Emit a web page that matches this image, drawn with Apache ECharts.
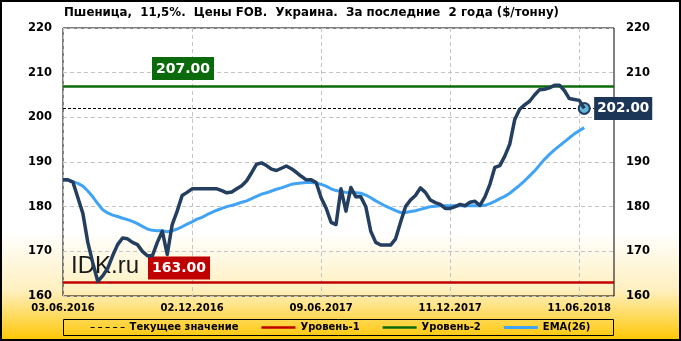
<!DOCTYPE html>
<html><head><meta charset="utf-8">
<script src="https://cdn.jsdelivr.net/npm/echarts@6/dist/echarts.min.js"></script>
<style>html,body{margin:0;padding:0;background:#fff}#c{width:681px;height:341px}</style>
</head><body><div id="c"></div>
<script>
// ---- data ----
const titleText = 'Пшеница,  11,5%.  Цены FOB.  Украина.  За последние  2 года ($/тонну)';
const xLabels = ['03.06.2016', '02.12.2016', '09.06.2017', '11.12.2017', '11.06.2018'];
const labelStep = 26;      // points between labelled dates
const categoryCount = 112; // points that the axis holds
const yMin = 160, yMax = 220, yStep = 10;
const price = [
  186, 186, 185.5, 182, 178.5, 172, 167.4, 163.3, 164.5, 166.2,
  169, 171.5, 173, 172.8, 172, 171.5, 170, 169, 169, 172,
  174.5, 169.3, 176, 179, 182.5, 183.2, 184, 184, 184, 184,
  184, 184, 183.6, 183.1, 183.3, 184, 184.7, 185.8, 187.6, 189.5,
  189.8, 189.2, 188.4, 188.1, 188.6, 189.1, 188.5, 187.7, 186.8, 186,
  186, 185.4, 182, 179.7, 176.5, 176, 184, 179, 184.3, 182.2,
  182.2, 180, 174.5, 172, 171.4, 171.4, 171.4, 172.8, 176.5, 180,
  181.5, 182.5, 184.2, 183.2, 181.5, 180.9, 180.5, 179.6, 179.6, 180,
  180.5, 180.2, 181, 181.2, 180.3, 182.2, 185, 188.8, 189.2, 191.3,
  194, 199.5, 201.8, 202.8, 203.6, 205, 206.2, 206.3, 206.6, 207.2,
  207.2, 206, 204.2, 204, 203.8, 202
];
const ema = [
  186, 185.9, 185.6, 185.2, 184.6, 183.5, 182.2, 180.7, 179.3, 178.6,
  178.1, 177.8, 177.4, 177.1, 176.7, 176.2, 175.6, 175, 174.7, 174.6,
  174.6, 174.4, 174.6, 175, 175.5, 176.1, 176.6, 177.2, 177.6, 178.2,
  178.7, 179.2, 179.6, 180, 180.3, 180.6, 181, 181.3, 181.8, 182.3,
  182.8, 183.1, 183.5, 183.9, 184.2, 184.6, 185, 185.2, 185.3, 185.4,
  185.4, 185.3, 185, 184.6, 184, 183.6, 183.4, 183.2, 183.1, 183.1,
  183, 182.6, 182, 181.3, 180.7, 180.1, 179.6, 179.1, 178.7, 178.7,
  178.9, 179.1, 179.4, 179.7, 180, 180.1, 180.2, 180.2, 180.2, 180.2,
  180.2, 180.2, 180.2, 180.2, 180.2, 180.3, 180.7, 181.2, 181.8, 182.3,
  183, 183.9, 184.8, 185.8, 186.9, 188, 189.3, 190.6, 191.7, 192.7,
  193.6, 194.5, 195.4, 196.3, 197, 197.7
];
const currentValue = 202;
const level1 = 163;
const level2 = 207;
const currentLineEnd = 107; // category index where the dashed line meets its label
const legendNames = ['Текущее значение', 'Уровень-1', 'Уровень-2', 'EMA(26)'];
const watermark = 'IDK.ru';

// ---- styles ----
const FONT = 'DejaVu Sans';
const C_PRICE = '#243E5F', C_EMA = '#41A3F5', C_RED = '#C00000', C_GREEN = '#0B6A0B', C_CUR = '#000000';
const gridLine = { color: '#C4C4C4', type: [4, 3], width: 1 };

const cats = Array.from({ length: categoryCount }, (_, i) => String(i));
const chart = echarts.init(document.getElementById('c'), null, { renderer: 'canvas' });

const boxLabel = (bg, text, pos, dist, size, pad) => ({
  show: true, position: pos, distance: dist, formatter: text,
  backgroundColor: bg, color: '#fff', fontFamily: FONT, fontWeight: 'bold', fontSize: size,
  padding: pad, lineHeight: 18
});

chart.setOption({
  animation: false,
  backgroundColor: 'transparent',
  textStyle: { fontFamily: FONT },
  title: {
    text: titleText, left: 64, top: 6, padding: 0,
    textStyle: { fontFamily: FONT, fontWeight: 'bold', fontSize: 11.8, color: '#000', lineHeight: 14 }
  },
  graphic: [
    { type: 'rect', z: -100, silent: true, shape: { x: 0, y: 0, width: 681, height: 341 },
      style: { fill: new echarts.graphic.LinearGradient(0, 0, 0, 1, [
        { offset: 0, color: '#FFFFFF' }, { offset: 0.68, color: '#FFFFFF' },
        { offset: 0.85, color: '#FFF0C0' }, { offset: 1, color: '#FFC600' }]) } },
    { type: 'rect', z: 50, silent: true, shape: { x: 1, y: 1, width: 679, height: 339 },
      style: { fill: 'none', stroke: '#000', lineWidth: 2 } },
    { type: 'rect', z: 50, silent: true, shape: { x: 63.5, y: 319.5, width: 550, height: 16 },
      style: { fill: 'none', stroke: '#000', lineWidth: 1 } },
    { type: 'text', z: 1, silent: true, left: 71, top: 254,
      style: { text: watermark, font: '24px "Liberation Sans"', fill: '#1a1a1a' } }
  ],
  legend: {
    left: 'center', top: 321, padding: 0, itemGap: 23, itemWidth: 34, itemHeight: 3,
    selectedMode: false,
    textStyle: { fontFamily: FONT, fontWeight: 'bold', fontSize: 10, color: '#000', lineHeight: 13 },
    data: [
      { name: legendNames[0], icon: 'path://M0,0H4V1H0Z M7.5,0H11.5V1H7.5Z M15,0H19V1H15Z M22.5,0H26.5V1H22.5Z M30,0H34V1H30Z', itemStyle: { color: C_CUR } },
      { name: legendNames[1], icon: 'path://M0,0H34V2.4H0Z', itemStyle: { color: C_RED } },
      { name: legendNames[2], icon: 'path://M0,0H34V2.4H0Z', itemStyle: { color: C_GREEN } },
      { name: legendNames[3], icon: 'path://M0,0H34V3H0Z', itemStyle: { color: C_EMA } }
    ]
  },
  grid: { left: 63, right: 67, top: 28, bottom: 45, show: true, borderColor: '#000', borderWidth: 1,
          backgroundColor: 'transparent', outerBoundsMode: 'none' },
  xAxis: {
    type: 'category', data: cats, boundaryGap: false,
    axisLine: { show: false }, axisTick: { show: false },
    axisLabel: { interval: labelStep - 1, margin: 7, fontFamily: FONT, fontWeight: 'bold', fontSize: 10, color: '#000',
      formatter: (v, i) => (i % labelStep === 0 && xLabels[i / labelStep]) || '' },
    splitLine: { show: true, interval: labelStep - 1, lineStyle: gridLine }
  },
  yAxis: [
    { type: 'value', min: yMin, max: yMax, interval: yStep, position: 'left',
      axisLine: { show: false }, axisTick: { show: false },
      axisLabel: { margin: 11, fontFamily: FONT, fontWeight: 'bold', fontSize: 11.5, color: '#000' },
      splitLine: { show: true, lineStyle: gridLine } },
    { type: 'value', min: yMin, max: yMax, interval: yStep, position: 'right',
      axisLine: { show: false }, axisTick: { show: false },
      axisLabel: { margin: 12, fontFamily: FONT, fontWeight: 'bold', fontSize: 11.5, color: '#000' },
      splitLine: { show: false } }
  ],
  series: [
    { name: legendNames[1], type: 'line', data: [], color: C_RED, z: 3,
      markLine: { silent: true, symbol: 'none', animation: false,
        lineStyle: { color: C_RED, width: 2.5, type: 'solid' },
        label: boxLabel(C_RED, level1.toFixed(2), 'insideStartTop', [85, 3], 14, [3, 4, 2, 4]),
        data: [{ yAxis: level1 }] } },
    { name: legendNames[2], type: 'line', data: [], color: C_GREEN, z: 3,
      markLine: { silent: true, symbol: 'none', animation: false,
        lineStyle: { color: C_GREEN, width: 2.5, type: 'solid' },
        label: boxLabel(C_GREEN, level2.toFixed(2), 'insideStartTop', [89, 6], 14, [3, 4, 2, 4]),
        data: [{ yAxis: level2 }] } },
    { name: legendNames[0], type: 'line', data: [], color: C_CUR, z: 3,
      markLine: { silent: true, symbol: 'none', animation: false,
        lineStyle: { color: C_CUR, width: 1, type: [3, 2] },
        label: boxLabel('#1C3658', currentValue.toFixed(2), 'end', [0, 0], 13.5, [3, 3, 2, 3]),
        data: [[{ coord: [0, currentValue] }, { coord: [currentLineEnd, currentValue] }]] } },
    { name: legendNames[3], type: 'line', data: ema, symbol: 'none', color: C_EMA, z: 4,
      lineStyle: { color: C_EMA, width: 3 } },
    { name: 'Пшеница', type: 'line', data: price, symbol: 'none', color: C_PRICE, z: 5,
      lineStyle: { color: C_PRICE, width: 3.5, join: 'round' },
      markPoint: { silent: true, symbol: 'circle', symbolSize: 11, animation: false,
        itemStyle: { color: '#63B6D8', borderColor: C_PRICE, borderWidth: 2 },
        label: { show: false },
        data: [{ coord: [price.length - 1, price[price.length - 1]] }] } }
  ]
});
</script>
</body></html>
